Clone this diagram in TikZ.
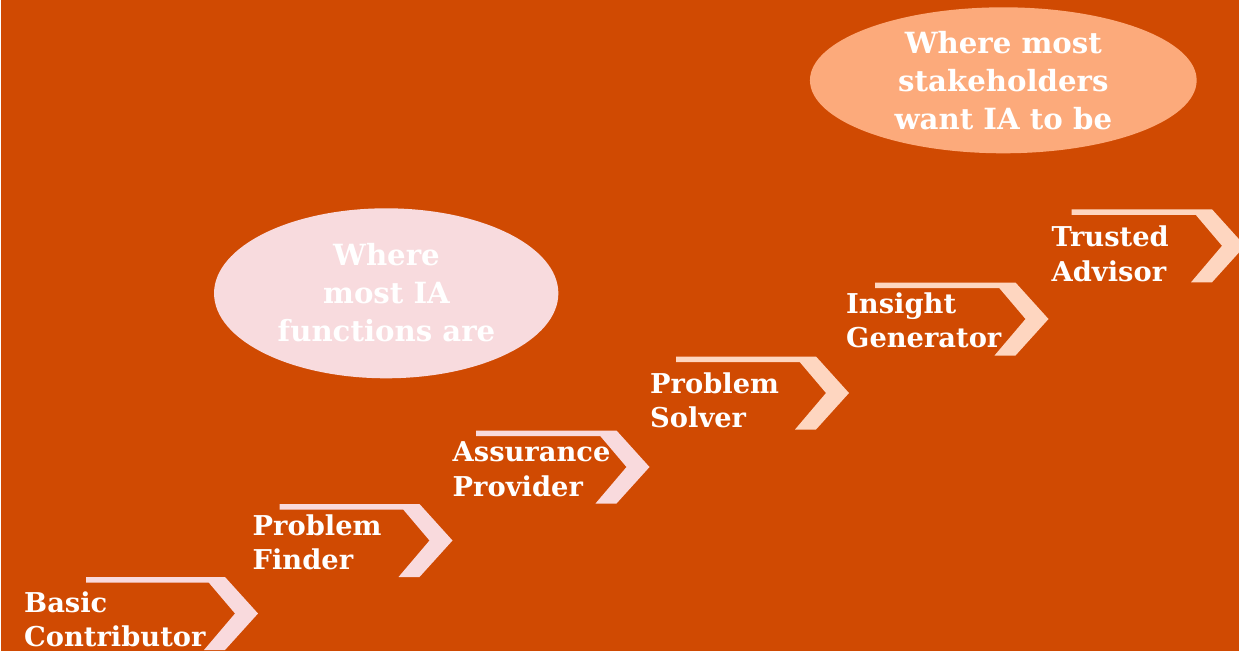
\documentclass[tikz,border=0pt]{standalone}
\usepackage{fontspec}
\setmainfont{DejaVu Serif}
\usetikzlibrary{shapes.geometric}
\definecolor{bgorange}{HTML}{D04A02}
\definecolor{stepPink}{HTML}{F9DADD}
\definecolor{stepPeach}{HTML}{FED6C0}
\definecolor{ellPink}{HTML}{F8DBDE}
\definecolor{ellPeach}{HTML}{FCAA7B}
\begin{document}
\begin{tikzpicture}[x=1pt,y=-1pt,
  steptext/.style={text=white, font=\fontsize{27.3}{34.5}\selectfont\bfseries, inner sep=0pt, anchor=base west},
  elltext/.style={text=white, font=\fontsize{29.2}{38}\selectfont\bfseries, inner sep=0pt, anchor=base},
  bubble/.style={ellipse, inner sep=0pt, draw=none},
]
\useasboundingbox (0,0) rectangle (1239,651);
\clip (0,0) rectangle (1239,651);
\fill[bgorange] (0,0) rectangle (1239,651);
\fill[white] (0,0) rectangle (1.2,651);
% steps: bar left / bar top / chevron tip / colour
\foreach \L/\Y/\T/\c in {86/577/258/stepPink, 279.5/504/452.5/stepPink, 476/430.5/649.5/stepPink, 676/356.5/849/stepPeach, 875/282.5/1048.5/stepPeach, 1071.5/209.3/1245/stepPeach}{
  \fill[\c] (\L,\Y) -- (\T-33,\Y) -- (\T,\Y+36.5) -- (\T-33,\Y+73) -- (\T-54,\Y+73) -- (\T-23,\Y+36.5) -- (\T-49.3,\Y+5.5) -- (\L,\Y+5.5) -- cycle;
}
\node[steptext, font=\fontsize{27.3}{33.3}\selectfont\bfseries, text depth=0pt] (s1) at (24,612.7) {\begin{tabular}[t]{@{}l@{}}Basic\\Contributor\end{tabular}};
\node[steptext] (s2) at (252.5,535) {\begin{tabular}[t]{@{}l@{}}Problem\\Finder\end{tabular}};
\node[steptext] (s3) at (452.5,461.7) {\begin{tabular}[t]{@{}l@{}}Assurance\\Provider\end{tabular}};
\node[steptext] (s4) at (650,393.3) {\begin{tabular}[t]{@{}l@{}}Problem\\Solver\end{tabular}};
\node[steptext] (s5) at (846,313.3) {\begin{tabular}[t]{@{}l@{}}Insight\\Generator\end{tabular}};
\node[steptext] (s6) at (1051.5,246.7) {\begin{tabular}[t]{@{}l@{}}Trusted\\Advisor\end{tabular}};
% bubbles
\node[bubble, fill=ellPink, minimum width=344.3pt, minimum height=170pt] (e1) at (386.2,293.3) {};
\node[elltext] (e1t) at (386.5,265.7) {\begin{tabular}[t]{@{}c@{}}Where\\most IA\\functions are\end{tabular}};
\node[bubble, fill=ellPeach, minimum width=386.7pt, minimum height=146pt] (e2) at (1003.3,80.3) {};
\node[elltext] (e2t) at (1003.3,53) {\begin{tabular}[t]{@{}c@{}}Where most\\stakeholders\\want IA to be\end{tabular}};
\end{tikzpicture}
\end{document}
